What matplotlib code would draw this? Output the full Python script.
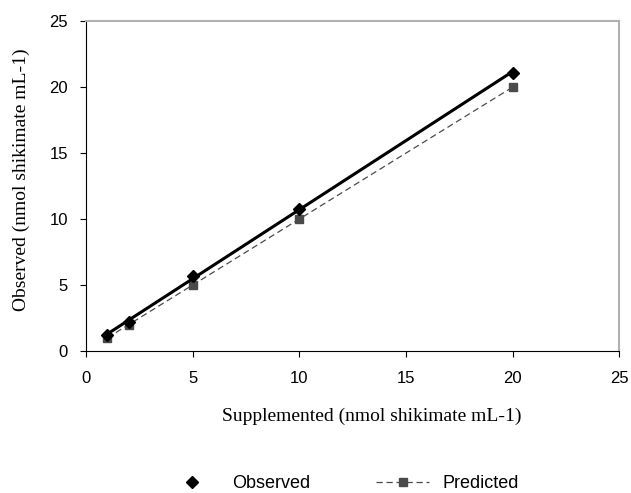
import numpy as np
import matplotlib
matplotlib.use('Agg')
import matplotlib.pyplot as plt

supplemented = [1, 2, 5, 10, 20]
observed = [1.2, 2.2, 5.7, 10.8, 21.1]
predicted = [1, 2, 5, 10, 20]

fig = plt.figure(figsize=(6.31, 4.93), dpi=100)
ax = fig.add_axes([0.1363, 0.288, 0.845, 0.669])

# linear trendline through observed values
k, b = np.polyfit(supplemented, observed, 1)
xs = np.array([min(supplemented), max(supplemented)])
ax.plot(xs, k * xs + b, color='black', lw=2.2, zorder=3)
ax.plot(supplemented, observed, 'D', color='black', ms=6, zorder=4,
        label='Observed')
ax.plot(supplemented, predicted, '--s', color='#4a4a4a', lw=0.9, ms=5.5,
        dashes=(5, 3), zorder=2, label='Predicted')

ax.set_xlim(0, 25)
ax.set_ylim(0, 25)
ax.set_xticks(range(0, 26, 5))
ax.set_yticks(range(0, 26, 5))
ax.tick_params(direction='out', length=4.5, width=0.8, labelsize=12,
               color='black')
ax.tick_params(axis='x', pad=10)
ax.tick_params(axis='y', pad=8.5)
for lab in ax.get_xticklabels() + ax.get_yticklabels():
    lab.set_family('Liberation Sans')
ax.spines['top'].set_color('#b0b0b0')
ax.spines['right'].set_color('#b0b0b0')
ax.spines['top'].set_linewidth(1.5)
ax.spines['right'].set_linewidth(1.5)

ax.set_xlabel('Supplemented (nmol shikimate mL-1)', family='Liberation Serif',
              fontsize=14)
ax.set_ylabel('Observed (nmol shikimate mL-1)', family='Liberation Serif',
              fontsize=14)
ax.xaxis.set_label_coords(0.535, -0.173)
ax.yaxis.set_label_coords(-0.105, 0.518)

fig.legend(loc='center left', bbox_to_anchor=(166 / 631, 1 - 484 / 493),
           ncol=2, frameon=False, borderpad=0, borderaxespad=0,
           prop={'family': 'Liberation Sans', 'size': 13},
           columnspacing=3.65, handlelength=2.9, handletextpad=0.78)

fig.savefig('out.png', dpi=100)
